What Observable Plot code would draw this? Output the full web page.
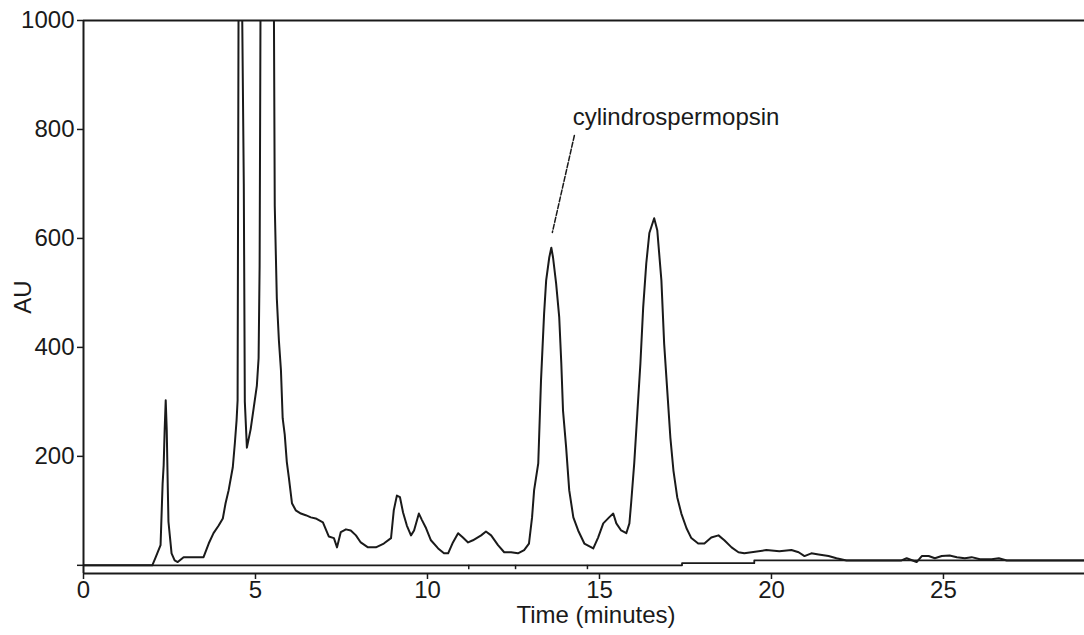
<!DOCTYPE html>
<html><head><meta charset="utf-8">
<script src="https://cdn.jsdelivr.net/npm/d3@7"></script>
<script src="https://cdn.jsdelivr.net/npm/@observablehq/plot@0.6"></script>
<style>html,body{margin:0;padding:0;background:#fff;}</style>
</head><body><div id="chart"></div>
<script>
// Chromatogram trace (time in minutes, absorbance AU)
const timeMin = [0, 2.0, 2.10, 2.24, 2.30, 2.33, 2.36, 2.39, 2.42, 2.45, 2.47, 2.56, 2.65, 2.74, 2.91, 3.49, 3.64, 3.78, 3.93, 4.05, 4.13, 4.22, 4.34, 4.40, 4.45, 4.48, 4.51, 4.60, 4.66, 4.69, 4.75, 4.86, 4.95, 5.04, 5.09, 5.12, 5.15, 5.53, 5.56, 5.62, 5.68, 5.74, 5.79, 5.85, 5.91, 5.97, 6.06, 6.17, 6.32, 6.46, 6.61, 6.75, 6.96, 7.13, 7.28, 7.37, 7.48, 7.63, 7.77, 7.92, 8.06, 8.27, 8.50, 8.73, 8.94, 9.02, 9.11, 9.20, 9.29, 9.40, 9.52, 9.61, 9.75, 9.84, 9.96, 10.10, 10.31, 10.48, 10.60, 10.74, 10.89, 11.03, 11.18, 11.32, 11.56, 11.70, 11.85, 12.05, 12.23, 12.43, 12.63, 12.81, 12.95, 13.04, 13.10, 13.22, 13.30, 13.39, 13.45, 13.54, 13.60, 13.65, 13.74, 13.83, 13.89, 13.94, 14.03, 14.12, 14.24, 14.38, 14.56, 14.82, 14.96, 15.11, 15.28, 15.40, 15.49, 15.63, 15.78, 15.87, 15.92, 16.01, 16.10, 16.19, 16.27, 16.36, 16.45, 16.59, 16.68, 16.80, 16.88, 16.97, 17.06, 17.15, 17.26, 17.38, 17.53, 17.67, 17.87, 18.05, 18.25, 18.46, 18.63, 18.84, 19.04, 19.21, 19.85, 20.23, 20.58, 20.79, 20.96, 21.16, 21.37, 21.66, 21.89, 22.18, 23.78, 23.93, 24.22, 24.37, 24.57, 24.75, 24.95, 25.18, 25.39, 25.62, 25.82, 26.06, 26.40, 26.61, 26.84, 29.1];
const absorbance = [0, 0, 15, 37, 150, 183, 250, 303, 248, 143, 80, 22, 9, 6, 15, 15, 40, 59, 73, 86, 114, 138, 180, 224, 266, 303, 1100, 1100, 700, 300, 216, 250, 290, 330, 380, 550, 1100, 1100, 660, 490, 413, 358, 270, 240, 190, 161, 114, 101, 95, 92, 88, 86, 79, 53, 50, 33, 61, 66, 64, 55, 42, 33, 33, 40, 50, 101, 128, 125, 97, 73, 55, 64, 95, 83, 68, 46, 31, 22, 22, 42, 59, 51, 42, 46, 55, 62, 55, 37, 24, 24, 22, 28, 40, 88, 138, 187, 339, 462, 523, 565, 583, 565, 517, 455, 371, 284, 217, 138, 88, 64, 40, 31, 51, 77, 88, 95, 77, 64, 59, 77, 114, 187, 279, 371, 473, 554, 610, 637, 615, 523, 407, 321, 235, 174, 125, 95, 68, 50, 40, 40, 51, 55, 46, 33, 24, 22, 28, 26, 28, 24, 17, 22, 20, 17, 13, 9, 9, 13, 6, 17, 17, 13, 17, 18, 15, 13, 15, 11, 11, 13, 9, 9];

// Baseline trace
const baseTime = [0, 17.4, 19.5, 29.1];
const baseLevel = [0, 4, 9, 9];
// Small event marks on the baseline
const eventTimes = [11.2, 12.56, 14.65];

// Axes
const xTicks = [0, 5, 10, 15, 20, 25];
const yTicks = [0, 200, 400, 600, 800, 1000];
const xDomain = [0, 29.1];
const yDomain = [-15, 1000];
const xLabel = "Time (minutes)";
const yLabel = "AU";

// Annotation
const peakLabel = "cylindrospermopsin";
const labelTime = 14.22, labelLevel = 822;
const leaderTime = [14.27, 13.63];
const leaderLevel = [789, 611];

const trace = timeMin.map((t, i) => ({t, v: absorbance[i]}));
const base = baseTime.map((t, i) => ({t, v: baseLevel[i]}));
const leader = leaderTime.map((t, i) => ({t, v: leaderLevel[i]}));
const ink = "#1a1a1a";

const plot = Plot.plot({
  width: 1084, height: 635,
  marginLeft: 83, marginRight: 0, marginTop: 20, marginBottom: 62,
  style: {fontFamily: "'Liberation Sans', Arial, sans-serif", fontSize: "24px", color: ink, background: "#fff"},
  x: {domain: xDomain},
  y: {domain: yDomain},
  marks: [
    Plot.ruleY([yDomain[1]], {stroke: ink, strokeWidth: 2}),
    Plot.ruleY([yDomain[0]], {stroke: ink, strokeWidth: 2}),
    Plot.ruleX([xDomain[0]], {stroke: ink, strokeWidth: 2}),
    Plot.line(base, {x: "t", y: "v", curve: "step-after", stroke: ink, strokeWidth: 1.8}),
    Plot.ruleX(eventTimes, {y1: 0, y2: -8, stroke: ink, strokeWidth: 1.5}),
    Plot.line(trace, {x: "t", y: "v", stroke: ink, strokeWidth: 2, clip: true}),
    Plot.line(leader, {x: "t", y: "v", stroke: ink, strokeWidth: 1.5, strokeDasharray: "5,2"}),
    Plot.text([peakLabel], {x: labelTime, y: labelLevel, textAnchor: "start", fill: ink}),
    Plot.axisX({ticks: xTicks, tickSize: 6, tickPadding: 1, label: null, stroke: ink, strokeWidth: 1.5}),
    Plot.axisY({ticks: yTicks, tickFormat: d => d === 0 ? "" : String(d), tickSize: 6, tickPadding: 3,
      label: yLabel, labelAnchor: "center", labelArrow: "none", labelOffset: 70, stroke: ink, strokeWidth: 1.5}),
    Plot.text([xLabel], {frameAnchor: "bottom", dx: 12, dy: 49, fill: ink})
  ]
});
document.getElementById("chart").appendChild(plot);
</script>
</body></html>
